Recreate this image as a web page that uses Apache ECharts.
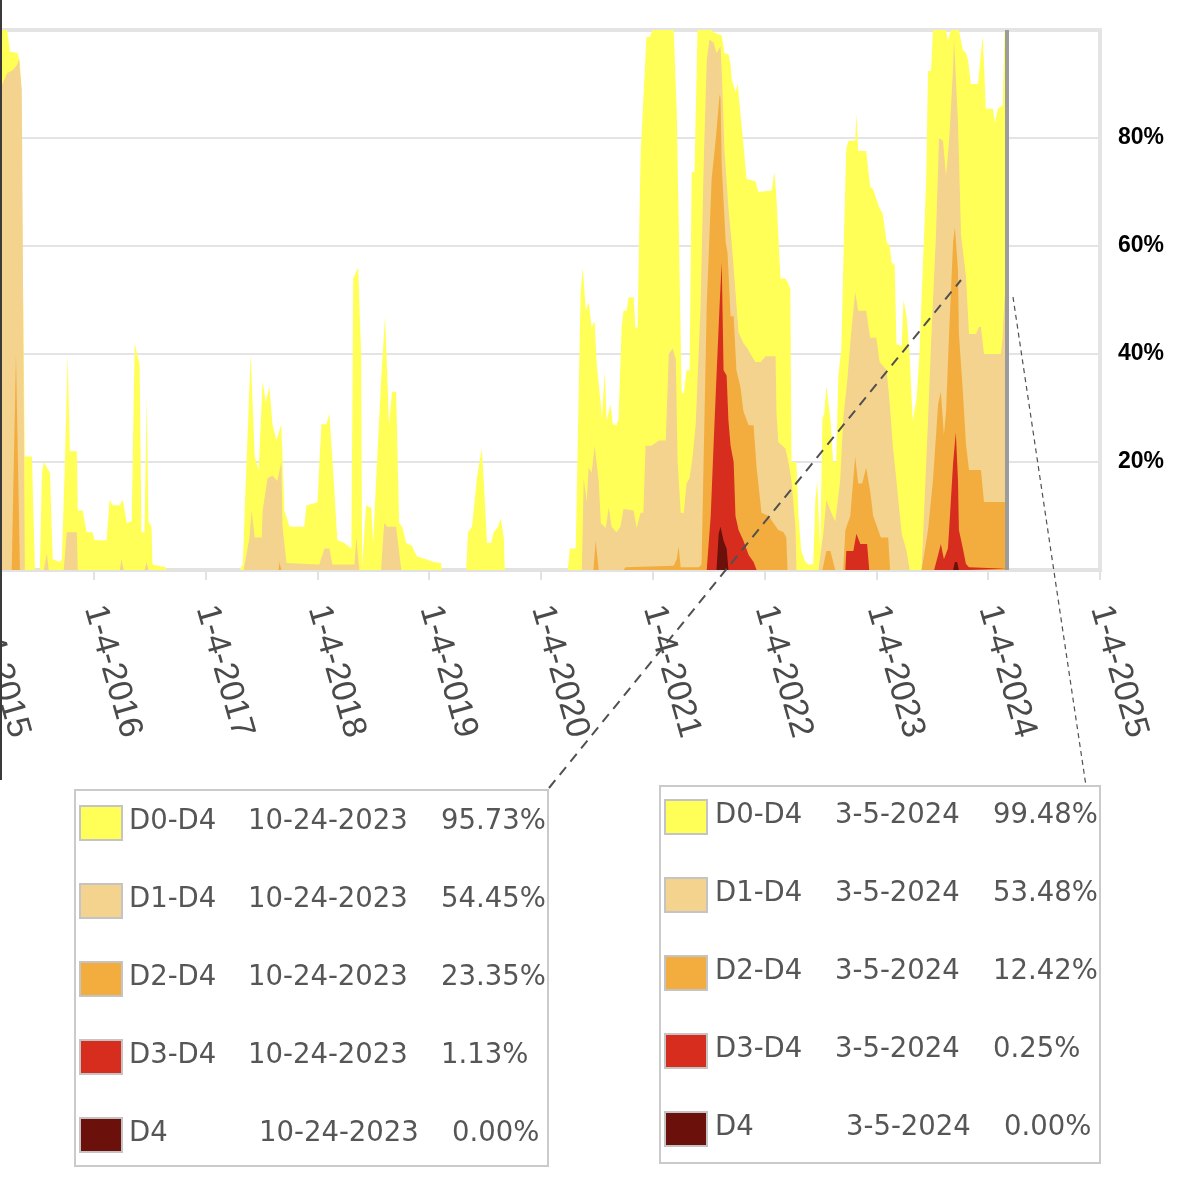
<!DOCTYPE html>
<html><head><meta charset="utf-8">
<script src="https://cdn.jsdelivr.net/npm/echarts@6/dist/echarts.min.js"></script>
<style>html,body{margin:0;padding:0;background:#fff;}#c{width:1192px;height:1200px;}</style>
</head><body><div id="c"></div>
<script>
const seriesNames = ['D0-D4','D1-D4','D2-D4','D3-D4','D4'];
const seriesColors = ['#FFFF57','#F4D38F','#F3AD3E','#D62D1F','#6B100A'];
const xTickLabels = ['1-4-2015','1-4-2016','1-4-2017','1-4-2018','1-4-2019','1-4-2020','1-4-2021','1-4-2022','1-4-2023','1-4-2024','1-4-2025'];
const yTickLabels = ['','20%','40%','60%','80%',''];
const tipDates = ['10-24-2023','3-5-2024'];
const tipValues1 = [95.73,54.45,23.35,1.13,0.00];
const tipValues2 = [99.48,53.48,12.42,0.25,0.00];

const d0 = [['2015-01-06',100],['2015-03-27',100],['2015-04-05',96],['2015-05-01',95.7],['2015-05-08',94],['2015-05-11',90],['2015-05-24',21],['2015-06-16',21],['2015-06-26',0],['2015-07-12',0],['2015-07-19',18],['2015-07-25',20],['2015-08-04',19],['2015-08-14',18],['2015-08-23',2],['2015-09-15',1.5],['2015-09-22',2],['2015-10-02',20],['2015-10-11',40],['2015-10-18',22],['2015-11-10',22],['2015-11-13',11],['2015-11-29',11],['2015-12-12',7],['2015-12-31',7],['2016-01-07',5.5],['2016-02-15',5.5],['2016-02-25',13],['2016-03-06',12],['2016-03-29',12],['2016-04-08',13],['2016-04-21',8.7],['2016-05-07',9],['2016-05-17',42],['2016-06-02',38],['2016-06-08',7],['2016-06-18',7],['2016-06-25',32],['2016-07-01',9],['2016-07-11',8],['2016-07-14',1],['2016-08-26',0.5],['2016-08-29',0],
['2017-04-25',0],['2017-05-05',1],['2017-05-14',15],['2017-05-31',40],['2017-06-13',21],['2017-06-26',18.5],['2017-07-09',35],['2017-07-19',31],['2017-07-31',34],['2017-08-10',27],['2017-08-23',24],['2017-09-08',27],['2017-09-18',11],['2017-10-05',8],['2017-11-22',8],['2017-11-29',12],['2018-01-04',12.5],['2018-01-17',27],['2018-02-02',27],['2018-02-12',29],['2018-02-28',15],['2018-03-10',5.5],['2018-04-02',5],['2018-04-25',4],['2018-05-01',54],['2018-05-17',56],['2018-05-27',39.5],['2018-05-30',0.5],['2018-06-12',12],['2018-06-29',11.5],['2018-07-05',5],['2018-07-15',17],['2018-07-31',35],['2018-08-13',47],['2018-08-26',27],['2018-09-05',33],['2018-09-18',33],['2018-09-28',8.7],['2018-10-08',8],['2018-10-21',5],['2018-11-09',4.5],['2018-11-16',3.5],['2018-11-26',2.5],['2018-12-25',2],['2019-01-20',1.5],['2019-02-12',1.3],['2019-02-15',0],
['2019-05-05',0],['2019-05-11',7],['2019-05-24',8],['2019-06-09',17],['2019-06-25',22.5],['2019-07-02',16],['2019-07-12',5],['2019-07-25',5],['2019-08-03',7],['2019-08-17',8],['2019-08-26',9.6],['2019-09-05',6],['2019-09-08',0],
['2020-04-01',0],['2020-04-08',4],['2020-04-27',4],['2020-05-13',51.5],['2020-05-20',56],['2020-05-30',48],['2020-06-08',49.6],['2020-06-18',45],['2020-06-28',46],['2020-07-04',38.5],['2020-07-18',30.7],['2020-07-21',28],['2020-07-31',36.7],['2020-08-06',27.6],['2020-08-19',30.7],['2020-08-26',27],['2020-09-07',26.8],['2020-09-14',28],['2020-09-24',45],['2020-09-30',48],['2020-10-10',48],['2020-10-17',50.5],['2020-11-02',50.5],['2020-11-08',44.8],['2020-11-15',44.8],['2020-11-25',77],['2020-12-01',77],['2020-12-14',98.7],['2020-12-24',98.7],['2021-01-04',100],['2021-03-13',100],['2021-03-23',85],['2021-03-29',85],['2021-04-08',33],['2021-04-15',32.7],['2021-04-24',37],['2021-05-04',37],['2021-05-11',73.7],['2021-05-20',73.7],['2021-05-30',100],['2021-07-15',100],['2021-07-22',99.6],['2021-08-17',99],['2021-08-26',95.7],['2021-09-08',95.5],['2021-09-15',93.7],['2021-09-18',91],['2021-10-01',88.5],['2021-10-08',90],['2021-10-17',84.6],['2021-10-27',78.8],['2021-11-06',72.4],['2021-12-05',72],['2021-12-15',70],['2022-01-27',70.3],['2022-02-05',73.7],['2022-02-12',68.7],['2022-02-25',54],['2022-03-13',54],['2022-03-23',53],['2022-03-29',52],['2022-04-02',20],['2022-04-18',20],['2022-04-25',10],['2022-05-04',3.5],['2022-05-17',1.5],['2022-05-27',1],['2022-06-12',1],['2022-06-19',13],['2022-06-25',16.5],['2022-07-05',3.5],['2022-07-12',28],['2022-07-18',29],['2022-07-25',34],['2022-08-07',28],['2022-08-16',20],['2022-08-26',20],['2022-09-02',36],['2022-09-12',41],['2022-09-21',63.4],['2022-09-28',78],['2022-10-05',79.5],['2022-10-27',79.5],['2022-10-31',84.6],['2022-11-06',77.6],['2022-12-02',77.6],['2022-12-15',71],['2022-12-25',70.5],['2023-01-04',68.7],['2023-01-15',67],['2023-01-25',66],['2023-02-07',60.7],['2023-02-17',60],['2023-02-23',56.9],['2023-03-05',56.5],['2023-03-11',41.8],['2023-03-28',41.5],['2023-04-03',50],['2023-04-13',47],['2023-04-23',39.8],['2023-05-03',27.6],['2023-05-16',32],['2023-05-25',40],['2023-06-16',72],['2023-06-22',92.4],['2023-07-02',92.4],['2023-07-08',100],['2023-08-20',100],['2023-08-26',98],['2023-09-05',100],['2023-10-01',100],['2023-10-14',96.3],['2023-10-24',95.73],['2023-10-31',94.4],['2023-11-09',90],['2023-12-02',90],['2023-12-12',95.7],['2023-12-18',98.9],['2023-12-28',85.4],['2024-01-20',85.4],['2024-01-27',82.8],['2024-02-05',85.4],['2024-02-21',86],['2024-02-27',99.5],['2024-03-05',99.48]];

const d1 = [['2015-01-06',89],['2015-03-04',89],['2015-03-27',92],['2015-04-15',92.6],['2015-04-28',93.5],['2015-05-05',94.6],['2015-05-14',89],['2015-05-24',0],['2015-07-25',0],['2015-08-04',3],['2015-08-10',0],['2015-09-28',0],['2015-10-08',7],['2015-11-10',7],['2015-11-13',0],['2016-03-29',0],['2016-04-04',2],['2016-04-11',0],['2016-06-18',0],['2016-06-25',1.5],['2016-07-01',0],
['2017-05-08',0],['2017-05-27',6],['2017-06-03',11],['2017-06-13',6],['2017-07-06',6],['2017-07-09',11],['2017-07-25',17],['2017-08-10',17.5],['2017-08-26',16.5],['2017-09-08',20],['2017-09-12',8],['2017-09-25',1.3],['2018-01-10',1],['2018-01-27',4],['2018-02-12',4],['2018-02-22',1],['2018-05-05',1],['2018-05-11',6],['2018-05-21',0],['2018-07-31',0],['2018-08-10',8.7],['2018-08-20',8],['2018-09-18',8],['2018-10-05',0],
['2020-05-17',0],['2020-05-23',17],['2020-06-02',12.6],['2020-06-08',19],['2020-06-18',18],['2020-06-28',23],['2020-07-11',16.5],['2020-07-18',8.7],['2020-08-03',7.8],['2020-08-13',11.6],['2020-08-22',8],['2020-09-07',7],['2020-09-20',8],['2020-09-30',11.3],['2020-11-02',11],['2020-11-12',7.8],['2020-11-18',7.8],['2020-11-25',10.6],['2020-12-04',10.6],['2020-12-11',23],['2020-12-30',23],['2021-01-24',24],['2021-02-15',24],['2021-02-25',40],['2021-03-10',41],['2021-03-20',39],['2021-03-26',20],['2021-04-05',10.6],['2021-04-15',10.5],['2021-04-24',16],['2021-05-04',17],['2021-05-14',21],['2021-05-24',27],['2021-06-09',49],['2021-06-19',75],['2021-06-29',94.4],['2021-07-08',98.3],['2021-07-22',97.6],['2021-07-31',95.7],['2021-08-13',97],['2021-08-17',92.4],['2021-08-26',78],['2021-09-08',67],['2021-09-18',61],['2021-10-01',51.5],['2021-10-11',44],['2021-10-27',42],['2021-11-09',41],['2021-11-19',40],['2021-12-05',38.5],['2021-12-22',38.5],['2022-01-07',39.6],['2022-02-09',39.6],['2022-02-12',29],['2022-02-18',23.7],['2022-03-13',22.5],['2022-03-23',20],['2022-04-02',16.5],['2022-04-15',8],['2022-04-18',0],
['2022-06-29',0],['2022-07-15',6.7],['2022-07-25',13],['2022-08-07',11],['2022-08-23',9],['2022-09-08',16.5],['2022-09-18',28],['2022-10-01',35],['2022-10-14',44],['2022-10-27',51.5],['2022-11-06',48],['2022-12-02',48],['2022-12-15',43],['2023-01-04',43],['2023-01-15',38.5],['2023-02-07',37],['2023-02-17',30.7],['2023-02-27',23],['2023-03-11',16.5],['2023-03-28',6.7],['2023-04-13',3.5],['2023-04-23',0],['2023-06-01',0],['2023-06-22',27.6],['2023-07-02',42],['2023-07-18',62],['2023-07-28',80],['2023-08-10',79.5],['2023-08-20',73],['2023-08-30',79.5],['2023-09-12',93],['2023-09-15',98.3],['2023-09-28',82.8],['2023-10-08',62],['2023-10-24',54.45],['2023-11-03',43.7],['2023-11-26',43.7],['2023-12-05',45],['2023-12-12',45],['2023-12-22',40],['2024-02-15',40],['2024-02-21',43],['2024-02-27',50],['2024-03-05',53.48]];

const d2 = [['2015-04-11',0],['2015-04-25',40],['2015-05-08',0],['2017-08-30',0],['2017-09-02',1.5],['2017-09-08',0],
['2020-06-24',0],['2020-07-01',5.4],['2020-07-11',0],['2020-09-30',0],['2020-10-07',0.5],['2021-03-13',0.8],['2021-03-23',2],['2021-03-29',4.4],['2021-04-05',0.5],['2021-06-03',0.5],['2021-06-12',1],['2021-06-29',49],['2021-07-15',72.4],['2021-07-28',79.5],['2021-08-10',88],['2021-08-13',87.5],['2021-08-17',75],['2021-08-30',60.7],['2021-09-05',58.7],['2021-09-15',47],['2021-09-25',47],['2021-10-04',37],['2021-10-17',34],['2021-10-27',29.4],['2021-11-13',26.8],['2021-11-29',26.8],['2021-12-09',19],['2021-12-25',10.6],['2022-01-17',10],['2022-02-02',8.7],['2022-02-18',7.4],['2022-03-07',7],['2022-03-16',6],['2022-03-20',0],
['2022-07-12',0],['2022-07-25',3.5],['2022-08-07',3.5],['2022-08-23',0],['2022-09-18',0],['2022-09-25',7.4],['2022-10-11',10],['2022-10-27',21],['2022-11-06',16],['2022-11-19',16],['2022-12-02',19],['2022-12-15',14.6],['2022-12-25',10],['2023-01-19',6],['2023-02-12',6],['2023-02-18',0],
['2023-06-01',0],['2023-06-22',7.4],['2023-07-08',16.5],['2023-07-25',30.7],['2023-08-03',33],['2023-08-13',25],['2023-08-20',29.4],['2023-08-30',44],['2023-09-12',60.7],['2023-09-18',63.5],['2023-09-28',55.4],['2023-10-01',43.7],['2023-10-14',33],['2023-10-24',23.35],['2023-11-03',18.5],['2023-12-12',18.5],['2023-12-22',12.6],['2024-02-27',12.6],['2024-03-05',12.42]];

const d3 = [['2021-06-29',0],['2021-07-12',10],['2021-07-22',24],['2021-07-31',36],['2021-08-10',49],['2021-08-17',57],['2021-08-23',37],['2021-09-02',36],['2021-09-08',27.6],['2021-09-15',23],['2021-09-25',20],['2021-10-01',10],['2021-10-11',7.4],['2021-10-27',5.4],['2021-11-13',2.8],['2021-11-29',1.5],['2021-12-09',0],
['2022-09-25',0],['2022-09-28',3.5],['2022-10-21',3.5],['2022-10-31',6.7],['2022-11-13',4.8],['2022-12-05',4.8],['2022-12-12',0],
['2023-07-12',0],['2023-07-25',2.8],['2023-08-03',4.8],['2023-08-13',2],['2023-08-26',4],['2023-08-30',7.4],['2023-09-12',19.8],['2023-09-21',25.5],['2023-09-28',16.5],['2023-10-01',7.4],['2023-10-14',4],['2023-10-24',1.13],['2023-11-03',0.5],['2024-03-05',0.25]];

const d4 = [['2021-07-31',0],['2021-08-07',6.7],['2021-08-13',8],['2021-08-23',5.4],['2021-09-02',4],['2021-09-08',0],['2023-09-12',0],['2023-09-18',1.5],['2023-09-25',1.5],['2023-10-01',0],['2024-03-05',0]];

const levels = [d0, d1, d2, d3, d4];
const toTs = s => Date.parse(s + 'T00:00:00Z');
const X_MIN = toTs('2015-01-04');
const X_MAX = toTs('2025-01-04');
const X_STEP = (X_MAX - X_MIN) / 10;
const cursorDate = '2024-03-05';

const chart = echarts.init(document.getElementById('c'), null, {renderer: 'canvas'});

const series = levels.map((arr, i) => {
  const s = {
    name: seriesNames[i], type: 'line', z: 2 + i, silent: true,
    data: arr.map(p => [toTs(p[0]), p[1]]),
    showSymbol: false, symbol: 'none',
    lineStyle: {width: 0, opacity: 0},
    itemStyle: {color: seriesColors[i]},
    areaStyle: {color: seriesColors[i], opacity: 1}
  };
  if (i === levels.length - 1) {
    s.markLine = {symbol: 'none', silent: true, animation: false, label: {show: false},
      lineStyle: {color: '#9c9c9c', width: 4, type: 'solid'},
      data: [{xAxis: toTs(cursorDate)}]};
  }
  return s;
});

function makeBox(b, dateStr, values) {
  const els = [{type: 'rect', z: 60, shape: {x: b.x, y: b.y, width: b.w, height: b.h},
    style: {fill: '#fff', stroke: '#cacaca', lineWidth: 2}}];
  for (let i = 0; i < 5; i++) {
    const cy = b.rowY + i * 78;
    const last = i === 4;
    els.push({type: 'rect', z: 61, shape: {x: b.sx, y: cy - 17, width: 42, height: 34},
      style: {fill: seriesColors[i], stroke: '#c4c4c4', lineWidth: 2}});
    const txt = (t, dx) => ({type: 'text', z: 61, x: b.sx + dx, y: cy - 1,
      style: {text: t, fill: '#565656', fontSize: 27.5, fontFamily: 'DejaVu Sans', verticalAlign: 'middle', align: 'left'}});
    els.push(txt(seriesNames[i], b.lab));
    els.push(txt(dateStr, last ? b.dat + 11 : b.dat));
    els.push(txt(values[i].toFixed(2) + '%', last ? b.val + 11 : b.val));
  }
  return els;
}

const graphics = [].concat(
  makeBox({x: 75, y: 790, w: 473, h: 376, sx: 80, rowY: 823, lab: 49, dat: 168, val: 361}, tipDates[0], tipValues1),
  makeBox({x: 660, y: 786, w: 440, h: 377, sx: 665, rowY: 817, lab: 50, dat: 170, val: 328}, tipDates[1], tipValues2),
  [
    {type: 'line', z: 70, shape: {x1: 549, y1: 788, x2: 961, y2: 280}, style: {stroke: '#505050', lineWidth: 2, lineDash: [10, 7]}},
    {type: 'line', z: 70, shape: {x1: 1013, y1: 297, x2: 1086, y2: 786}, style: {stroke: '#505050', lineWidth: 1.2, lineDash: [5, 4]}},
    {type: 'line', z: 70, shape: {x1: 1, y1: 0, x2: 1, y2: 780}, style: {stroke: '#3a3a3a', lineWidth: 2}}
  ]
);

chart.setOption({
  animation: false,
  backgroundColor: '#fff',
  grid: {left: -18, right: 92, top: 30, bottom: 630, show: true, borderColor: '#e4e4e4', borderWidth: 4, backgroundColor: '#fff', outerBoundsMode: 'none', containLabel: false},
  xAxis: {
    type: 'value', min: X_MIN, max: X_MAX, interval: X_STEP,
    axisLine: {show: true, lineStyle: {color: '#e2e2e2', width: 4}},
    axisTick: {show: true, length: 10, lineStyle: {color: '#e2e2e2', width: 2}},
    splitLine: {show: false},
    axisLabel: {
      rotate: -74, margin: 36, color: '#4a4a4a', fontSize: 34, fontFamily: 'Liberation Sans',
      showMinLabel: true, showMaxLabel: true, hideOverlap: false,
      formatter: v => xTickLabels[Math.round((v - X_MIN) / X_STEP)] || ''
    }
  },
  yAxis: {
    type: 'value', position: 'right', min: 0, max: 100, interval: 20,
    axisLine: {show: false}, axisTick: {show: false},
    splitLine: {show: true, lineStyle: {color: '#e4e4e4', width: 2}},
    axisLabel: {margin: 18, color: '#000', fontWeight: 'bold', fontSize: 23, fontFamily: 'Liberation Sans',
      formatter: v => yTickLabels[Math.round(v / 20)] || ''}
  },
  series: series,
  graphic: {elements: graphics}
});
</script></body></html>
